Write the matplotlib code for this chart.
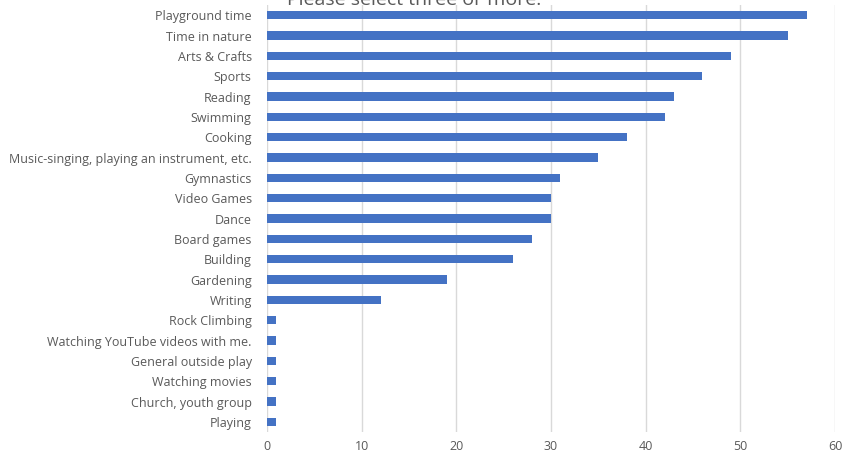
import numpy as np
import matplotlib.pyplot as plt

plt.rcParams['font.family'] = ['Open Sans', 'DejaVu Sans']

# activities, top to bottom as in the chart
activities = [
    'Playground time', 'Time in nature', 'Arts & Crafts', 'Sports', 'Reading',
    'Swimming', 'Cooking', 'Music-singing, playing an instrument, etc.',
    'Gymnastics', 'Video Games', 'Dance', 'Board games', 'Building',
    'Gardening', 'Writing', 'Rock Climbing', 'Watching YouTube videos with me.',
    'General outside play', 'Watching movies', 'Church, youth group', 'Playing',
]
counts = [57, 55, 49, 46, 43, 42, 38, 35, 31, 30, 30, 28, 26, 19, 12, 1, 1, 1, 1, 1, 1]
x_ticks = [0, 10, 20, 30, 40, 50, 60]
title = 'Please select three or more.'

fig = plt.figure(figsize=(8.46, 4.57), dpi=100)
ax = fig.add_axes([0.3156, 0.0547, 0.6714, 0.9343])

ypos = np.arange(len(activities))[::-1]
ax.barh(ypos, counts, height=0.4, color='#4472c4', zorder=3)

ax.set_xlim(0, 60)
ax.set_ylim(-0.5, len(activities) - 0.5)
ax.set_xticks(x_ticks)
ax.set_yticks(ypos)
ax.set_yticklabels(activities)
ax.grid(axis='x', color='#d9d9d9', linewidth=1, zorder=0)
for s in ax.spines.values():
    s.set_visible(False)
ax.tick_params(axis='both', length=0, colors='#595959', labelsize=9)
ax.tick_params(axis='x', pad=6)
ax.tick_params(axis='y', pad=11)

fig.text(0.49, 1 - 5 / 457, title, ha='center', va='baseline',
         fontsize=14, color='#595959')

fig.savefig('out.png', dpi=100)
